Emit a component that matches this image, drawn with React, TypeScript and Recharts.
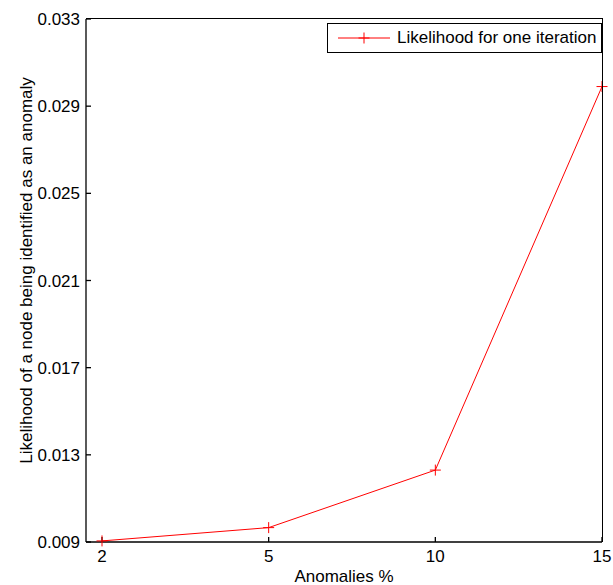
import React from "react";
import { LineChart, Line, XAxis, YAxis, Legend } from "recharts";

const categories = ["2", "5", "10", "15"];
const likelihood = [0.00905, 0.00966, 0.0123, 0.0299];
const yTicks = [0.009, 0.013, 0.017, 0.021, 0.025, 0.029, 0.033];

const seriesName = "Likelihood for one iteration";
const red = "#ff0000";
const font = "'Liberation Sans', Arial, sans-serif";

const data = categories.map((name, i) => ({ name, value: likelihood[i] }));

const PlusDot = (props: any) => {
  const { cx, cy } = props;
  if (cx == null || cy == null) return null;
  return (
    <g stroke={red} strokeWidth={1}>
      <line x1={cx - 5.5} x2={cx + 5.5} y1={cy} y2={cy} />
      <line x1={cx} x2={cx} y1={cy - 5.5} y2={cy + 5.5} />
    </g>
  );
};

const YLabel = (props: any) => {
  const { viewBox } = props;
  const cx = viewBox.x + 32;
  const cy = viewBox.y + viewBox.height / 2 - 10;
  return (
    <text
      x={cx}
      y={cy}
      transform={`rotate(-90, ${cx}, ${cy})`}
      textAnchor="middle"
      fontSize={17}
      fontFamily={font}
      fill="#000"
    >
      Likelihood of a node being identified as an anomaly
    </text>
  );
};

const LegendBox = () => (
  <div
    style={{
      border: "1px solid #000",
      background: "#fff",
      height: 28,
      width: 273,
      display: "flex",
      alignItems: "center",
      fontFamily: font,
      fontSize: 17,
      color: "#000",
    }}
  >
    <svg width={62} height={28} style={{ flex: "none" }}>
      <line x1={10} x2={62} y1={14} y2={14} stroke={red} strokeWidth={1} />
      <line x1={30.5} x2={41.5} y1={14} y2={14} stroke={red} strokeWidth={1} />
      <line x1={36} x2={36} y1={8.5} y2={19.5} stroke={red} strokeWidth={1} />
    </svg>
    <span style={{ marginLeft: 7, whiteSpace: "nowrap" }}>{seriesName}</span>
  </div>
);

export default function App() {
  const tickStyle = { fontSize: 17, fontFamily: font, fill: "#000" };
  return (
    <div style={{ position: "absolute", left: 0, top: 0, background: "#fff" }}>
      <LineChart
        width={613}
        height={585}
        data={data}
        margin={{ top: 19, right: 11, left: 0, bottom: 0 }}
      >
        <XAxis
          dataKey="name"
          height={43}
          stroke="#000"
          strokeWidth={1.3}
          padding={{ left: 16, right: 0 }}
          tick={tickStyle}
          tickSize={-5}
          tickMargin={13}
          label={{
            value: "Anomalies %",
            position: "insideBottom",
            offset: 3,
            fontSize: 17,
            fontFamily: font,
            fill: "#000",
          }}
        />
        <YAxis
          width={86}
          stroke="#000"
          strokeWidth={1.3}
          domain={[0.009, 0.033]}
          ticks={yTicks}
          tick={tickStyle}
          tickSize={-5}
          tickMargin={11}
          tickFormatter={(v: number) => v.toFixed(3)}
          label={<YLabel />}
        />
        <Legend
          layout="horizontal"
          verticalAlign="middle"
          align="center"
          content={() => <LegendBox />}
          wrapperStyle={{ top: 23, right: 11, width: "auto", height: "auto" }}
        />
        <Line
          type="linear"
          dataKey="value"
          name={seriesName}
          stroke={red}
          strokeWidth={1}
          dot={<PlusDot />}
          activeDot={false}
          isAnimationActive={false}
        />
      </LineChart>
      {/* top and right edges of the axes box */}
      <div
        style={{
          position: "absolute",
          left: 86,
          top: 18,
          width: 517,
          height: 524,
          boxSizing: "border-box",
          borderTop: "1px solid #000",
          borderRight: "1px solid #000",
          pointerEvents: "none",
        }}
      />
    </div>
  );
}
